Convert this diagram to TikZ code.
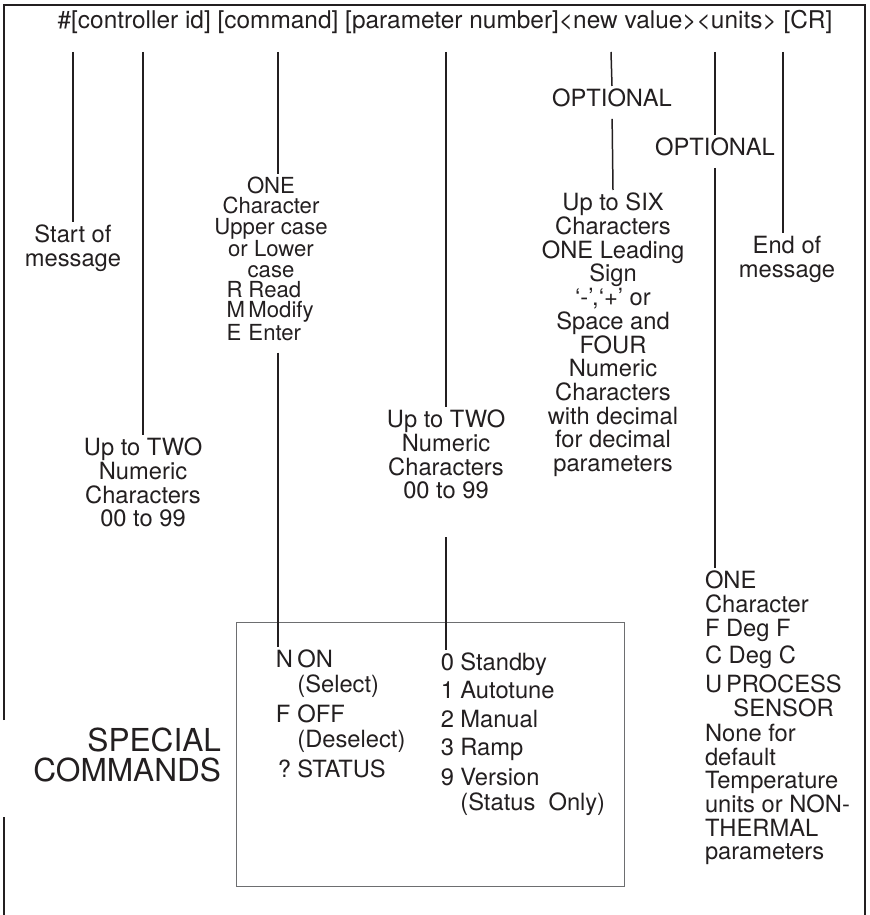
\documentclass[tikz,border=0pt]{standalone}
\usepackage{fontspec}
\setmainfont{TeX Gyre Heros}
\usepackage{xcolor}
\usepackage{tikz}
\usetikzlibrary{
  calc
}
\definecolor{Ink}{HTML}{231F20}
\definecolor{BoxGray}{HTML}{6D6E70}
\newcommand{\hdrfont}{\fontsize{13.9}{14}\selectfont}
\newcommand{\lblfont}{\fontsize{13.5}{13.5}\selectfont}
\newcommand{\cmdfont}{\fontsize{12.6}{11.55}\selectfont}
\newcommand{\bigfont}{\fontsize{18}{17}\selectfont}
\newcommand{\keyrow}[2]{\makebox[1.78cm][l]{\makebox[0.44cm][l]{#1}#2}}
\tikzset{
  header/.style={
    font=\hdrfont,
    text=Ink,
    inner sep=0pt
  },
  lbl/.style={
    font=\lblfont,
    text=Ink,
    align=center,
    inner sep=0pt,
    outer sep=1.7pt
  },
  entry/.style={
    font=\lblfont,
    text=Ink,
    inner sep=0pt,
    anchor=base west
  },
  keychar/.style={
    entry,
    outer sep=1.7pt
  },
  leader/.style={
    draw=Ink,
    line width=0.85pt
  },
  frame/.style={
    draw=Ink,
    line width=0.75pt
  },
  cmdbox/.style={
    draw=BoxGray,
    line width=0.6pt,
    anchor=north west,
    inner sep=0pt,
    minimum width=7.76cm,
    minimum height=5.28cm
  }
}
\begin{document}
\begin{tikzpicture}[x=0.02cm, y=-0.02cm]

  \useasboundingbox (0,0) rectangle (869,915);

  % outer frame, open at the bottom and beside the special commands
  \draw[frame] (4,720) -- (4,5) -- (865,5) -- (865,915);
  \draw[frame] (4,817) -- (4,915);

  \node[header, anchor=base] (hdr) at (445,29) {%
    \#[controller id] [command] [parameter number]<new value><units> [CR]};

  % top ends of the leaders
  \coordinate (pStart) at (73,52);
  \coordinate (pId) at (143,52);
  \coordinate (pCmd) at (278,52);
  \coordinate (pNum) at (446,52);
  \coordinate (pVal) at (611,52);
  \coordinate (pUnit) at (715,52);
  \coordinate (pCR) at (783,52);

  \node[lbl, anchor=north] (start) at (73,222) {
    Start of\\
    message
  };

  \node[lbl, anchor=north] (idlbl) at (143,435) {
    Up to TWO\\
    Numeric\\
    Characters\\
    00 to 99
  };

  \node[lbl, font=\cmdfont, anchor=north] (cmdlbl) at (271,174) {
    ONE\\
    Character\\
    Upper case\\
    or Lower\\
    case\\
    \keyrow{R}{Read}\\
    \keyrow{M}{Modify}\\
    \keyrow{E}{Enter}
  };

  \node[lbl, anchor=north] (numlbl) at (446,407) {
    Up to TWO\\
    Numeric\\
    Characters\\
    00 to 99
  };

  \node[lbl, anchor=north] (opt1) at (612,86) {OPTIONAL};

  \node[lbl, anchor=north] (vallbl) at (613,190) {
    Up to SIX\\
    Characters\\
    ONE Leading\\
    Sign\\
    ‘-’,‘+’ or\\
    Space and\\
    FOUR\\
    Numeric\\
    Characters\\
    with decimal\\
    for decimal\\
    parameters
  };

  \node[lbl, anchor=north] (opt2) at (715,135) {OPTIONAL};

  \node[lbl, anchor=north] (endlbl) at (787,233) {
    End of\\
    message
  };

  \node[lbl, align=left, anchor=north west] (unitlbl) at (702,568) {
    ONE\\
    Character\\[0.4pt]
    F Deg F\\[1.5pt]
    C Deg C\\[3pt]
    U\,PROCESS\\[0.5pt]
    \hspace*{1.2em}SENSOR\\[0.5pt]
    None for\\
    default\\
    Temperature\\
    units or NON-\\
    THERMAL\\
    parameters
  };

  \node[lbl, font=\bigfont, align=right, anchor=north east] (special) at (224,725) {
    SPECIAL\\
    COMMANDS
  };

  \node[cmdbox] (box) at (236,622) {};

  % selection column
  \node[keychar] (keyN) at (273,667) {N};
  \node[entry] (on) at (297,667) {ON};
  \node[entry] (sel) at (297,692) {(Select)};
  \node[keychar] (keyF) at (273,722) {F};
  \node[entry] (off) at (297,722) {OFF};
  \node[entry] (desel) at (297,747) {(Deselect)};
  \node[keychar] (keyQ) at (275,777) {?};
  \node[entry] (status) at (297,777) {STATUS};

  % mode column
  \node[keychar] (key0) at (438,670) {0};
  \node[entry] (standby) at (460,670) {Standby};
  \node[keychar] (key1) at (438,698) {1};
  \node[entry] (autotune) at (460,698) {Autotune};
  \node[keychar] (key2) at (438,727) {2};
  \node[entry] (manual) at (460,727) {Manual};
  \node[keychar] (key3) at (438,755) {3};
  \node[entry] (ramp) at (460,755) {Ramp};
  \node[keychar] (key9) at (438,785) {9};
  \node[entry] (version) at (460,785) {Version};
  \node[entry] (statusonly) at (460,810) {(Status\ \ Only)};

  % leaders
  \draw[leader] (pStart) -- (start.north);
  \draw[leader] (pId) -- (idlbl.north);
  \draw[leader] (pCmd) -- (pCmd |- cmdlbl.north);
  \draw[leader, shorten <=5pt] (pCmd |- cmdlbl.south) -- (pCmd |- keyN.north);
  \draw[leader] (pNum) -- (numlbl.north);
  \draw[leader, shorten <=20pt] (numlbl.south) -- (numlbl.south |- key0.north);
  \draw[leader] (pVal) -- (opt1.north);
  \draw[leader, shorten <=5pt] (opt1.south) -- (vallbl.north);
  \draw[leader] (pUnit) -- (opt2.north);
  \draw[leader, shorten <=5pt] (opt2.south) -- (opt2.south |- unitlbl.north);
  \draw[leader] (pCR) -- (pCR |- endlbl.north);

\end{tikzpicture}
\end{document}
